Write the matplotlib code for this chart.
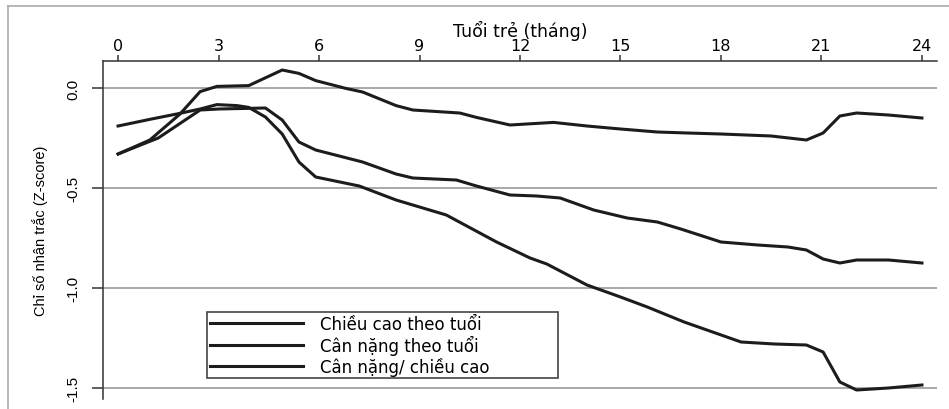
import numpy as np
import matplotlib.pyplot as plt
from matplotlib.lines import Line2D

plt.rcParams['axes.unicode_minus'] = False

# tuổi (tháng) và Z-score cho từng chỉ số
thang_cc = [0, 1, 1.75, 2.45, 2.95, 3.55, 3.9, 4.4, 4.9, 5.4, 5.9, 7.2, 8.3, 9.3, 9.8,
            11.3, 12.3, 12.8, 14.0, 15.0, 15.8, 16.9, 18.6, 19.6, 20.55, 21.05, 21.55,
            22.05, 23, 24]
cao_theo_tuoi = [-0.19, -0.155, -0.13, -0.105, -0.083, -0.088, -0.097, -0.145, -0.23,
                 -0.37, -0.445, -0.49, -0.56, -0.61, -0.635, -0.77, -0.85, -0.88, -0.985,
                 -1.045, -1.095, -1.17, -1.27, -1.28, -1.285, -1.32, -1.47, -1.51, -1.5,
                 -1.485]

thang_cn = [0, 1.2, 2.45, 3.0, 4.4, 4.9, 5.4, 5.9, 7.3, 8.3, 8.8, 10.1, 10.7, 11.7, 12.5,
            13.2, 14.2, 15.2, 16.1, 16.8, 18.0, 19.1, 20.0, 20.55, 21.05, 21.55, 22.05,
            23, 24]
nang_theo_tuoi = [-0.33, -0.25, -0.11, -0.105, -0.10, -0.16, -0.27, -0.31, -0.37, -0.43,
                  -0.45, -0.46, -0.49, -0.535, -0.54, -0.55, -0.61, -0.65, -0.67, -0.705,
                  -0.77, -0.785, -0.795, -0.81, -0.855, -0.875, -0.86, -0.86, -0.875]

thang_nc = [0, 0.95, 1.85, 2.45, 2.95, 3.9, 4.9, 5.4, 5.9, 6.8, 7.3, 8.3, 8.8, 10.2, 10.7,
            11.7, 13.0, 14.0, 15.0, 16.1, 17.0, 18.0, 19.5, 20.55, 21.05, 21.55, 22.05,
            23, 24]
nang_theo_cao = [-0.33, -0.26, -0.13, -0.018, 0.008, 0.012, 0.09, 0.073, 0.037, -0.002,
                 -0.02, -0.088, -0.11, -0.125, -0.147, -0.185, -0.172, -0.19, -0.205,
                 -0.22, -0.225, -0.23, -0.24, -0.26, -0.225, -0.14, -0.125, -0.135, -0.15]

nhan = ['Chiều cao theo tuổi', 'Cân nặng theo tuổi', 'Cân nặng/ chiều cao']
x_ticks = [0, 3, 6, 9, 12, 15, 18, 21, 24]
y_ticks = [-1.5, -1.0, -0.5, 0.0]

W, H = 949, 410
fig = plt.figure(figsize=(W / 100, H / 100), dpi=100)
ax = fig.add_axes([103 / W, 1 - 400 / H, (937 - 103) / W, (400 - 62) / H])

mau = '#1c1c1c'
ax.plot(thang_cc, cao_theo_tuoi, color=mau, lw=2.2, label=nhan[0])
ax.plot(thang_cn, nang_theo_tuoi, color=mau, lw=2.2, label=nhan[1])
ax.plot(thang_nc, nang_theo_cao, color=mau, lw=2.2, label=nhan[2])

ax.set_xlim(-0.45, 24.45)
ax.set_ylim(-1.555, 0.135)

ax.spines['right'].set_visible(False)
ax.spines['bottom'].set_visible(False)
for s in ('top', 'left'):
    ax.spines[s].set_color('#333333')
    ax.spines[s].set_linewidth(1.1)

ax.xaxis.tick_top()
ax.xaxis.set_label_position('top')
ax.set_xticks(x_ticks)
ax.set_xticklabels([str(t) for t in x_ticks], family='DejaVu Sans', fontsize=11.5)
ax.tick_params(axis='x', length=4, width=1.1, color='#333333', pad=1.5)
ax.set_xlabel('Tuổi trẻ (tháng)', family='DejaVu Sans', fontsize=12.5, labelpad=2)

ax.set_yticks(y_ticks)
ax.set_yticklabels(['%.1f' % t for t in y_ticks], family='Liberation Sans',
                   fontsize=11, rotation=90, va='center')
ax.tick_params(axis='y', length=8, width=1.1, color='#333333', pad=8)
ax.set_ylabel('Chỉ số nhân trắc (Z-score)', family='Liberation Sans', fontsize=10.5)
ax.yaxis.set_label_coords(-0.066, 0.5)

ax.grid(axis='y', color='#9a9a9a', lw=1.2)
ax.set_axisbelow(True)

leg = ax.legend(loc='upper left', bbox_to_anchor=(207 / W, 1 - 379 / H, 351 / W, 66 / H),
                bbox_transform=fig.transFigure, mode='expand', borderaxespad=0,
                fancybox=False, edgecolor='#444444', framealpha=1,
                prop={'family': 'DejaVu Sans', 'size': 12},
                handlelength=5.6, handletextpad=1.0, labelspacing=0.12,
                borderpad=0.15)
leg.get_frame().set_linewidth(1.2)

# khung viền ngoài
fig.add_artist(Line2D([8 / W, 8 / W], [0, 1 - 7 / H], color='#aaaaaa', lw=1.2))
fig.add_artist(Line2D([8 / W, 1], [1 - 7 / H, 1 - 7 / H], color='#aaaaaa', lw=1.2))

fig.savefig('out.png', dpi=100)
